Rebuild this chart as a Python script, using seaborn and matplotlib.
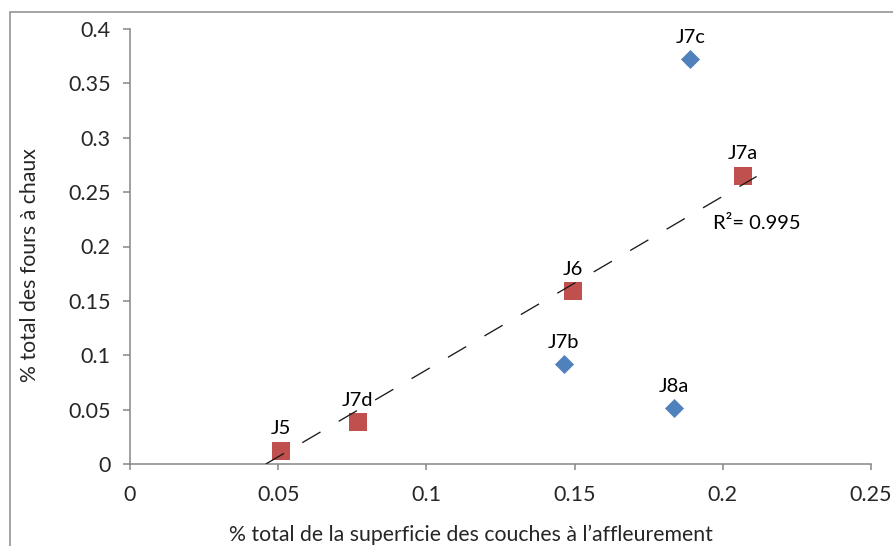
import numpy as np
import pandas as pd
import matplotlib
matplotlib.use("Agg")
import matplotlib.pyplot as plt
from matplotlib.patches import Rectangle
import seaborn as sns

# Data
blue_names = ["J7c", "J7b", "J8a"]
blue_x = [0.189, 0.1463, 0.1834]
blue_y = [0.372, 0.0916, 0.0512]

red_names = ["J5", "J7d", "J6", "J7a"]
red_x = [0.051, 0.0768, 0.1495, 0.2067]
red_y = [0.012, 0.0383, 0.1587, 0.265]

# Linear trendline shown on the chart (red series)
trend_slope = 1.597
trend_intercept = -0.0732
trend_x_end = 0.2114
r2_value = 0.995

x_ticks = [0, 0.05, 0.1, 0.15, 0.2, 0.25]
y_ticks = [0, 0.05, 0.1, 0.15, 0.2, 0.25, 0.3, 0.35, 0.4]

blue_df = pd.DataFrame({"name": blue_names, "x": blue_x, "y": blue_y})
red_df = pd.DataFrame({"name": red_names, "x": red_x, "y": red_y})

trend_x = np.array([-trend_intercept / trend_slope, trend_x_end])
trend_df = pd.DataFrame({"x": trend_x, "y": trend_slope * trend_x + trend_intercept})

sns.set_theme(style="white")
plt.rcParams["font.family"] = ["Lato", "DejaVu Sans"]

W, H = 893, 546
fig = plt.figure(figsize=(W / 100, H / 100), dpi=100)
ax = fig.add_axes([130 / W, 1 - 464 / H, (871 - 130) / W, (464 - 29) / H])

sns.lineplot(data=trend_df, x="x", y="y", color="#1a1a1a", lw=0.95,
             linestyle=(0, (16, 16)), ax=ax, zorder=3)

sns.scatterplot(data=blue_df, x="x", y="y", marker="D", s=94, color="#4F81BD",
                linewidth=0, ax=ax, zorder=2)
sns.scatterplot(data=red_df, x="x", y="y", marker="s", s=177, color="#C0504D",
                linewidth=0, ax=ax, zorder=2)

fs = 14.5
for df in (blue_df, red_df):
    for _, row in df.iterrows():
        ax.annotate(row["name"], (row["x"], row["y"]), xytext=(0, 16),
                    textcoords="offset points", ha="center", va="center",
                    fontsize=fs, color="black")

ax.text(0.1967, 0.2215, f"R²= {r2_value}", ha="left", va="center",
        fontsize=fs, color="black")

ax.set_xlim(0, 0.25)
ax.set_ylim(0, 0.4)
ax.set_xticks(x_ticks)
ax.set_yticks(y_ticks)
ax.set_xticklabels([f"{v:g}" for v in x_ticks])
ax.set_yticklabels([f"{v:g}" for v in y_ticks])

spine_col = "#868686"
for side in ("top", "right"):
    ax.spines[side].set_visible(False)
for side in ("left", "bottom"):
    ax.spines[side].set_color(spine_col)
    ax.spines[side].set_linewidth(1.1)
ax.tick_params(axis="y", direction="out", length=5, width=1.1, color=spine_col,
               labelsize=15.5, pad=9, left=True)
ax.tick_params(axis="x", direction="out", length=4, width=1.1, color=spine_col,
               labelsize=15.5, pad=11, bottom=True)

ax.set_xlabel("% total de la superficie des couches à l’affleurement", fontsize=15.3)
ax.set_ylabel("% total des fours à chaux", fontsize=15.3)
ax.xaxis.set_label_coords(0.46, -0.14)
ax.yaxis.set_label_coords(-0.121, 0.457)

# Outer chart frame
fig.patches.append(Rectangle((10 / W, -0.1), 1.2, 1 - 12 / H + 0.1,
                             transform=fig.transFigure, fill=False,
                             edgecolor="#8c8c8c", linewidth=1.1))

fig.savefig("out.png", dpi=100)
